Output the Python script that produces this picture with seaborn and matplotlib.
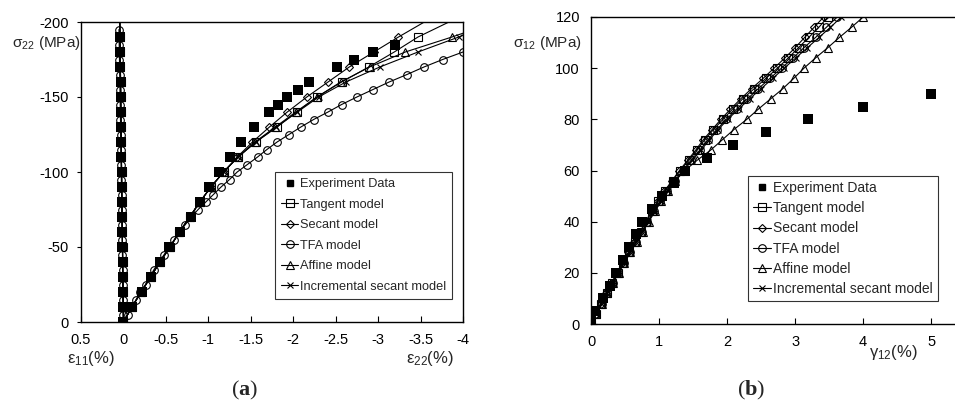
import matplotlib
matplotlib.use("Agg")
import matplotlib.pyplot as plt
import seaborn as sns
import pandas as pd
from matplotlib.lines import Line2D

sns.set_style("ticks")
plt.rcParams['font.family'] = ['Liberation Sans', 'DejaVu Sans']
plt.rcParams['axes.unicode_minus'] = False
plt.rcParams['mathtext.fontset'] = 'custom'
plt.rcParams['mathtext.rm'] = 'Liberation Sans'
plt.rcParams['mathtext.it'] = 'Liberation Sans:italic'
plt.rcParams['mathtext.bf'] = 'Liberation Serif:bold'

# ---------------- Panel (a): transverse compression ----------------
sig_exp_a = [0, -10, -20, -30, -40, -50, -60, -70, -80, -90, -100, -110, -120, -130,
             -140, -145, -150, -155, -160, -170, -175, -180, -185]
eps22_exp = [0, -0.1, -0.22, -0.33, -0.43, -0.54, -0.67, -0.79, -0.9, -1.01, -1.13, -1.25,
             -1.38, -1.54, -1.72, -1.82, -1.93, -2.06, -2.19, -2.52, -2.72, -2.94, -3.2]
sig_exp11 = [0, -10, -20, -30, -40, -50, -60, -70, -80, -90, -100, -110, -120, -130,
             -140, -150, -160, -170, -180, -190]
eps11_exp = [0, 0.003, 0.005, 0.007, 0.01, 0.012, 0.013, 0.015, 0.018, 0.019, 0.021, 0.024,
             0.025, 0.027, 0.03, 0.031, 0.033, 0.036, 0.038, 0.04]

sig_mod_a = [0, -10, -20, -30, -40, -50, -60, -70, -80, -90, -100, -110, -120, -130,
             -140, -150, -160, -170, -180, -190, -210]
eps22_tangent = [0, -0.1, -0.21, -0.32, -0.43, -0.55, -0.66, -0.78, -0.9, -1.03, -1.18, -1.35,
                 -1.56, -1.81, -2.04, -2.28, -2.57, -2.89, -3.19, -3.47, -4.2]
eps22_secant = [0, -0.1, -0.21, -0.32, -0.43, -0.55, -0.66, -0.78, -0.9, -1.03, -1.18, -1.34,
                -1.52, -1.72, -1.93, -2.16, -2.41, -2.66, -2.95, -3.24, -3.85]
eps22_affine = [0, -0.1, -0.21, -0.32, -0.43, -0.55, -0.66, -0.78, -0.9, -1.03, -1.18, -1.35,
                -1.55, -1.79, -2.03, -2.28, -2.56, -2.9, -3.32, -3.87, -4.9]
eps22_incr = [0, -0.1, -0.21, -0.32, -0.43, -0.55, -0.66, -0.78, -0.9, -1.03, -1.18, -1.35,
              -1.56, -1.8, -2.05, -2.3, -2.62, -3.02, -3.47, -3.95, -4.9]
sig_mod11 = [0, -10, -20, -30, -40, -50, -60, -70, -80, -90, -100, -110, -120, -130,
             -140, -150, -160, -170, -180, -190, -210]
eps11_models = [0, 0.002, 0.005, 0.007, 0.009, 0.011, 0.013, 0.016, 0.018, 0.02, 0.022, 0.024,
                0.026, 0.028, 0.03, 0.032, 0.034, 0.036, 0.038, 0.04, 0.045]

sig_tfa_a = [0, -5, -10, -15, -20, -25, -30, -35, -40, -45, -50, -55, -60, -65, -70, -75,
             -80, -85, -90, -95, -100, -105, -110, -115, -120, -125, -130, -135, -140,
             -145, -150, -155, -160, -165, -170, -175, -180, -185]
eps22_tfa = [0, -0.05, -0.1, -0.15, -0.2, -0.26, -0.31, -0.36, -0.42, -0.48, -0.54, -0.6,
             -0.66, -0.73, -0.8, -0.88, -0.97, -1.06, -1.15, -1.25, -1.34, -1.46, -1.58,
             -1.69, -1.81, -1.95, -2.09, -2.24, -2.41, -2.57, -2.75, -2.94, -3.13, -3.34,
             -3.54, -3.76, -4.0, -4.25]
sig_tfa11 = [0, -5, -10, -15, -20, -25, -30, -35, -40, -45, -50, -55, -60, -65, -70, -75,
             -80, -85, -90, -95, -100, -105, -110, -115, -120, -125, -130, -135, -140,
             -145, -150, -155, -160, -165, -170, -175, -180, -185, -190, -195]
eps11_tfa = [0, 0.002, 0.003, 0.004, 0.005, 0.007, 0.008, 0.009, 0.01, 0.012, 0.013, 0.014,
             0.016, 0.017, 0.018, 0.019, 0.021, 0.022, 0.023, 0.025, 0.026, 0.027, 0.029,
             0.03, 0.031, 0.033, 0.034, 0.035, 0.037, 0.038, 0.04, 0.041, 0.042, 0.044,
             0.045, 0.047, 0.048, 0.05, 0.051, 0.053]

# ---------------- Panel (b): in-plane shear ----------------
sig_exp_b = [0, 5, 10, 15, 20, 25, 30, 35, 40, 45, 50, 55, 60, 65, 70, 75, 80, 85, 90]
gam_exp = [0, 0.06, 0.17, 0.28, 0.37, 0.47, 0.56, 0.66, 0.75, 0.9, 1.04, 1.22, 1.38,
           1.71, 2.09, 2.57, 3.19, 4.0, 5.0]

sig_mod_b = [0, 4, 8, 12, 16, 20, 24, 28, 32, 36, 40, 44, 48, 52, 56, 60, 64, 68, 72,
             76, 80, 84, 88, 92, 96, 100, 104, 108, 112, 116, 120]
gam_tangent = [0, 0.07, 0.15, 0.23, 0.31, 0.39, 0.47, 0.56, 0.64, 0.73, 0.81, 0.9, 0.99,
               1.09, 1.2, 1.31, 1.44, 1.56, 1.67, 1.8, 1.94, 2.08, 2.23, 2.4, 2.57, 2.74,
               2.9, 3.05, 3.2, 3.35, 3.48]
gam_secant = [0, 0.07, 0.14, 0.22, 0.3, 0.38, 0.46, 0.55, 0.63, 0.72, 0.8, 0.89, 0.98,
              1.08, 1.19, 1.3, 1.42, 1.54, 1.65, 1.78, 1.91, 2.05, 2.2, 2.36, 2.53, 2.69,
              2.85, 3.0, 3.14, 3.28, 3.42]
gam_tfa = [0, 0.08, 0.16, 0.24, 0.32, 0.4, 0.48, 0.57, 0.66, 0.75, 0.83, 0.92, 1.02, 1.12,
           1.23, 1.35, 1.47, 1.6, 1.72, 1.85, 1.99, 2.14, 2.3, 2.46, 2.63, 2.8, 2.97, 3.13,
           3.3, 3.46, 3.62]
gam_incr = [0, 0.08, 0.16, 0.24, 0.32, 0.4, 0.49, 0.58, 0.66, 0.75, 0.84, 0.93, 1.03, 1.13,
            1.24, 1.36, 1.49, 1.62, 1.74, 1.87, 2.01, 2.17, 2.33, 2.5, 2.67, 2.84, 3.01,
            3.18, 3.35, 3.52, 3.68]
gam_affine = [0, 0.08, 0.16, 0.24, 0.32, 0.41, 0.49, 0.58, 0.67, 0.76, 0.85, 0.94, 1.03,
              1.13, 1.24, 1.38, 1.56, 1.76, 1.93, 2.1, 2.29, 2.46, 2.64, 2.82, 2.98, 3.13,
              3.3, 3.48, 3.65, 3.83, 4.0]

labels = ["Experiment Data", "Tangent model", "Secant model", "TFA model",
          "Affine model", "Incremental secant model"]

# ---------------- styles ----------------
LW = 0.8
styles = {
    "Tangent model": dict(marker='s', ms=5.5),
    "Secant model": dict(marker='D', ms=4.0),
    "TFA model": dict(marker='o', ms=5.5),
    "Affine model": dict(marker='^', ms=5.5),
    "Incremental secant model": dict(marker='x', ms=5.0),
}


def curve(ax, x, y, name):
    st = styles[name]
    df = pd.DataFrame({"x": x, "y": y})
    sns.lineplot(data=df, x="x", y="y", sort=False, estimator=None, ax=ax,
                 color='black', lw=LW, marker=st['marker'], ms=st['ms'],
                 mfc='none', mec='black', mew=0.8, legend=False, zorder=3)


def exp_points(ax, x, y, s):
    df = pd.DataFrame({"x": x, "y": y})
    sns.scatterplot(data=df, x="x", y="y", ax=ax, marker='s', s=s, color='black',
                    edgecolor='black', linewidth=0, legend=False, zorder=2)


fig = plt.figure(figsize=(9.55, 4.03), dpi=100)
axa = fig.add_axes([81 / 955, 1 - 322 / 403, (463 - 81) / 955, (322 - 22) / 403])
axb = fig.add_axes([591 / 955, 1 - 324 / 403, (955 - 591) / 955, (324 - 17) / 403])

# Panel (a)
exp_points(axa, eps22_exp, sig_exp_a, 42)
exp_points(axa, eps11_exp, sig_exp11, 42)
curve(axa, eps22_tangent, sig_mod_a, "Tangent model")
curve(axa, eps22_secant, sig_mod_a, "Secant model")
curve(axa, eps22_affine, sig_mod_a, "Affine model")
curve(axa, eps22_incr, sig_mod_a, "Incremental secant model")
curve(axa, eps22_tfa, sig_tfa_a, "TFA model")
for nm in ["Tangent model", "Secant model", "Affine model", "Incremental secant model"]:
    curve(axa, eps11_models, sig_mod11, nm)
curve(axa, eps11_tfa, sig_tfa11, "TFA model")

axa.set_xlim(0.5, -4)
axa.set_ylim(0, -200)
axa.set_xticks([0.5, 0, -0.5, -1, -1.5, -2, -2.5, -3, -3.5, -4])
axa.set_xticklabels(["0.5", "0", "-0.5", "-1", "-1.5", "-2", "-2.5", "-3", "-3.5", "-4"])
axa.set_yticks([0, -50, -100, -150, -200])
axa.set_yticklabels(["0", "-50", "-100", "-150", "-200"])
axa.tick_params(axis='x', direction='in', length=4, width=0.8, pad=8, labelsize=10.5,
                colors='black')
axa.tick_params(axis='y', direction='out', length=3, width=0.8, pad=6, labelsize=10.5,
                colors='black')
axa.set_xlabel("")
axa.set_ylabel("")
for sp in axa.spines.values():
    sp.set_visible(True)
    sp.set_color('black')
    sp.set_linewidth(1.0)

# Panel (b)
exp_points(axb, gam_exp, sig_exp_b, 42)
curve(axb, gam_tangent, sig_mod_b, "Tangent model")
curve(axb, gam_secant, sig_mod_b, "Secant model")
curve(axb, gam_tfa, sig_mod_b, "TFA model")
curve(axb, gam_incr, sig_mod_b, "Incremental secant model")
curve(axb, gam_affine, sig_mod_b, "Affine model")

axb.set_xlim(0, 5.35)
axb.set_ylim(0, 120)
axb.set_xticks([0, 1, 2, 3, 4, 5])
axb.set_yticks([0, 20, 40, 60, 80, 100, 120])
axb.tick_params(axis='x', direction='in', length=4, width=0.8, pad=8, labelsize=10.5,
                colors='black')
axb.tick_params(axis='y', direction='in', length=4, width=0.8, pad=8, labelsize=10.5,
                colors='black')
axb.set_xlabel("")
axb.set_ylabel("")
for k, sp in axb.spines.items():
    sp.set_color('black')
    sp.set_linewidth(1.0)
    sp.set_visible(k != 'right')


def handles():
    hs = [Line2D([], [], color='black', marker='s', ls='none', ms=5)]
    for nm in labels[1:]:
        st = styles[nm]
        hs.append(Line2D([], [], color='black', lw=LW, marker=st['marker'], ms=st['ms'],
                         mfc='none', mec='black', mew=0.8))
    return hs


lga = axa.legend(handles(), labels, loc='upper left',
                 bbox_to_anchor=(275 / 955, 1 - 172 / 403), bbox_transform=fig.transFigure,
                 frameon=True, fancybox=False, shadow=False, fontsize=9.2,
                 handlelength=1.3, handletextpad=0.15, labelspacing=0.66,
                 borderpad=0.5, borderaxespad=0)
lga.get_frame().set_edgecolor('black')
lga.get_frame().set_linewidth(0.8)

lgb = axb.legend(handles(), labels, loc='upper left',
                 bbox_to_anchor=(748 / 955, 1 - 176 / 403), bbox_transform=fig.transFigure,
                 frameon=True, fancybox=False, shadow=False, fontsize=10,
                 handlelength=1.3, handletextpad=0.15, labelspacing=0.45,
                 borderpad=0.35, borderaxespad=0)
lgb.get_frame().set_edgecolor('black')
lgb.get_frame().set_linewidth(0.8)

# axis titles as free text
fig.text(12 / 955, 1 - 43 / 403, "σ$_{22}$ (MPa)", fontsize=11, va='center', ha='left')
fig.text(67 / 955, 1 - 359 / 403, "ε$_{11}$(%)", fontsize=12, va='center', ha='left')
fig.text(406 / 955, 1 - 359 / 403, "ε$_{22}$(%)", fontsize=12, va='center', ha='left')
fig.text(513 / 955, 1 - 43 / 403, "σ$_{12}$ (MPa)", fontsize=11, va='center', ha='left')
fig.text(869 / 955, 1 - 352 / 403, "γ$_{12}$(%)", fontsize=12, va='center', ha='left')

fig.text(245 / 955, 1 - 390 / 403, r"($\mathbf{a}$)", fontsize=16, ha='center', va='center',
         family='Liberation Serif')
fig.text(751 / 955, 1 - 390 / 403, r"($\mathbf{b}$)", fontsize=16, ha='center', va='center',
         family='Liberation Serif')

fig.savefig("out.png", dpi=100)
